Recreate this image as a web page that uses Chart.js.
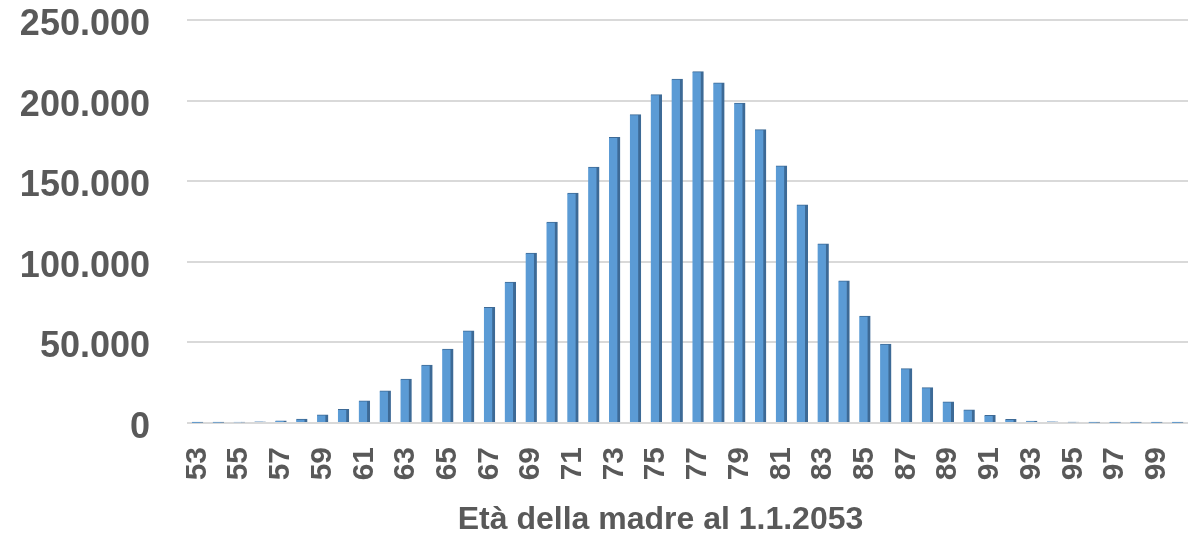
<!DOCTYPE html>
<html lang="it">
<head>
<meta charset="utf-8">
<title>Età della madre al 1.1.2053</title>
<script src="https://cdn.jsdelivr.net/npm/chart.js@4/dist/chart.umd.min.js"></script>
<style>
  html, body { margin: 0; padding: 0; background: #ffffff; }
  #wrap { width: 1194px; height: 534px; position: relative; }
</style>
</head>
<body>
<div id="wrap"><canvas id="chart" width="1194" height="534"></canvas></div>
<script>
// Età della madre (anni compiuti al 1.1.2053)
const ages = [
  '53','54','55','56','57','58','59','60','61','62','63','64',
  '65','66','67','68','69','70','71','72','73','74','75','76',
  '77','78','79','80','81','82','83','84','85','86','87','88',
  '89','90','91','92','93','94','95','96','97','98','99','100'
];

// Numero di madri per età
const mothers = [
    200,    300,    500,    800,   1300,   2400,   5000,   8500,  13700,  19900,  27300,  36000,
  45800,  57100,  71800,  87400, 105400, 124600, 142600, 158800, 177200, 191300, 203700, 213400,
 218000, 211000, 198500, 182000, 159600, 135400, 111200,  88200,  66400,  48900,  33700,  21900,
  13200,   8100,   4800,   2300,   1200,    700,    400,    300,    200,    150,    100,    100
];

// Valori delle linee di griglia dell'asse verticale
const yTicks = [0, 50000, 100000, 150000, 200000, 250000];

const axisTitle = 'Età della madre al 1.1.2053';

const textColor = '#595959';
const fontFamily = '"Liberation Sans", Arial, Helvetica, sans-serif';

function formatIt(v) {
  return String(v).replace(/\B(?=(\d{3})+(?!\d))/g, '.');
}

// Keep the plot area fixed: no extra room reserved for overhanging labels
function noOverhang(scale) {
  scale.paddingTop = 0;
  scale.paddingBottom = 0;
  scale.paddingLeft = 0;
  scale.paddingRight = 0;
}

// Horizontal axis title, set slightly left of the plot centre
const axisTitlePlugin = {
  id: 'axisTitle',
  afterDraw(chart) {
    const { ctx, chartArea } = chart;
    const cx = (chartArea.left + chartArea.right) / 2 - 27;
    ctx.save();
    ctx.font = 'bold 32px ' + fontFamily;
    ctx.fillStyle = textColor;
    ctx.textAlign = 'center';
    ctx.textBaseline = 'alphabetic';
    ctx.fillText(axisTitle, cx, chart.height - 5);
    ctx.restore();
  }
};

new Chart(document.getElementById('chart'), {
  type: 'bar',
  data: {
    labels: ages,
    datasets: [{
      data: mothers,
      backgroundColor: '#5b9bd5',
      borderColor: '#3d6a96',
      borderWidth: { top: 1, right: 3, bottom: 0, left: 0 },
      borderSkipped: false,
      barThickness: 11
    }]
  },
  plugins: [axisTitlePlugin],
  options: {
    responsive: false,
    animation: false,
    layout: { padding: { top: 20, right: 6, bottom: 0, left: 0 } },
    plugins: {
      legend: { display: false },
      tooltip: { enabled: false }
    },
    scales: {
      x: {
        offset: true,
        grid: { display: false, drawTicks: false },
        border: { display: false },
        ticks: {
          autoSkip: false,
          minRotation: 90,
          maxRotation: 90,
          padding: 24,
          color: textColor,
          font: { family: fontFamily, size: 30, weight: 'bold' },
          callback: function (value, index) {
            return index % 2 === 0 ? ages[index] : '';
          }
        },
        afterFit: function (scale) { scale.height = 111; noOverhang(scale); }
      },
      y: {
        min: 0,
        max: 250000,
        afterBuildTicks: function (scale) {
          scale.ticks = yTicks.map(function (v) { return { value: v }; });
        },
        grid: { color: '#d9d9d9', lineWidth: 2, drawTicks: false },
        border: { display: false },
        ticks: {
          padding: 37,
          labelOffset: 5,
          color: textColor,
          font: { family: fontFamily, size: 36, weight: 'bold' },
          callback: function (value) { return formatIt(value); }
        },
        afterFit: function (scale) { scale.width = 187; noOverhang(scale); }
      }
    }
  }
});
</script>
</body>
</html>
